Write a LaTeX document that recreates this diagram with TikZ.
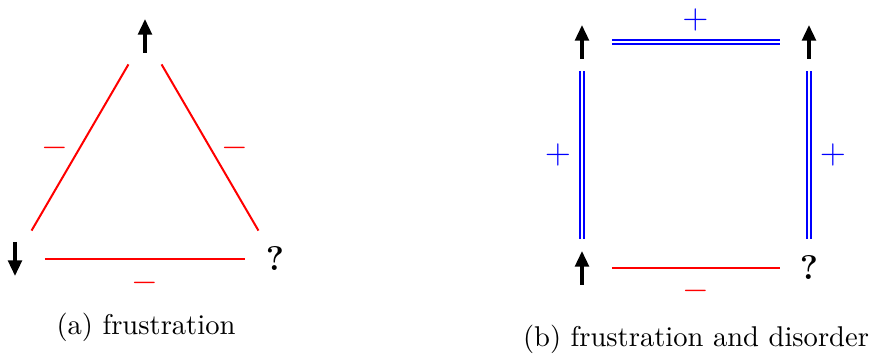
\documentclass[tikz,border=0pt]{standalone}
\usetikzlibrary{arrows.meta}
\begin{document}
\begin{tikzpicture}[x=0.35pt,y=-0.35pt,
    spin/.style={inner sep=0pt,minimum width=12pt,minimum height=11.5pt},
    spinarrow/.style={line width=1.2pt,-{Triangle[length=5.5pt,width=4.8pt]}},
    afm/.style={red,line width=0.7pt},
    fm/.style={blue,line width=0.6pt,double=white,double distance=0.7pt},
    minus/.style={red,midway,font=\fontsize{11.5}{13}\selectfont},
    plus/.style={blue,midway,font=\fontsize{11.5}{13}\selectfont},
    qmark/.style={font=\large\bfseries,inner sep=0pt}]
  \useasboundingbox (0,0) rectangle (872,358);

  % (a) triangle
  \node[spin] (a1) at (145,36) {};
  \node[spin] (a2) at (15,259) {};
  \node[qmark] (a3) at (275,259) {?};
  \draw[spinarrow] (a1.south) -- (a1.north);
  \draw[spinarrow] (a2.north) -- (a2.south);

  \draw[afm,shorten <=11.5pt,shorten >=11.5pt] (a1.center) -- (a2.center)
    node[minus,xshift=-8.8pt] {$-$};
  \draw[afm,shorten <=11.5pt,shorten >=11.5pt] (a1.center) -- (a3.center)
    node[minus,xshift=8.8pt] {$-$};
  \draw[afm,shorten <=10.5pt,shorten >=10.5pt] (a2.center) -- (a3.center)
    node[minus,yshift=-8.4pt] {$-$};

  \node (capa) at (146,327) {(a) frustration};

  % (b) square
  \node[spin] (b1) at (582,42) {};
  \node[spin] (b2) at (809,42) {};
  \node[spin] (b3) at (582,268) {};
  \node[qmark] (b4) at (809,268) {?};
  \draw[spinarrow] (b1.south) -- (b1.north);
  \draw[spinarrow] (b2.south) -- (b2.north);
  \draw[spinarrow] (b3.south) -- (b3.north);

  \draw[fm,shorten <=10.5pt,shorten >=10.3pt] (b1.center) -- (b2.center)
    node[plus,yshift=7.7pt] {$+$};
  \draw[fm,shorten <=10.3pt,shorten >=10.3pt] (b1.center) -- (b3.center)
    node[plus,xshift=-8.4pt] {$+$};
  \draw[fm,shorten <=10.3pt,shorten >=10.3pt] (b2.center) -- (b4.center)
    node[plus,xshift=8.4pt] {$+$};
  \draw[afm,shorten <=10.5pt,shorten >=10.3pt] (b3.center) -- (b4.center)
    node[minus,yshift=-8pt] {$-$};

  \node (capb) at (696,339) {(b) frustration and disorder};
\end{tikzpicture}
\end{document}
